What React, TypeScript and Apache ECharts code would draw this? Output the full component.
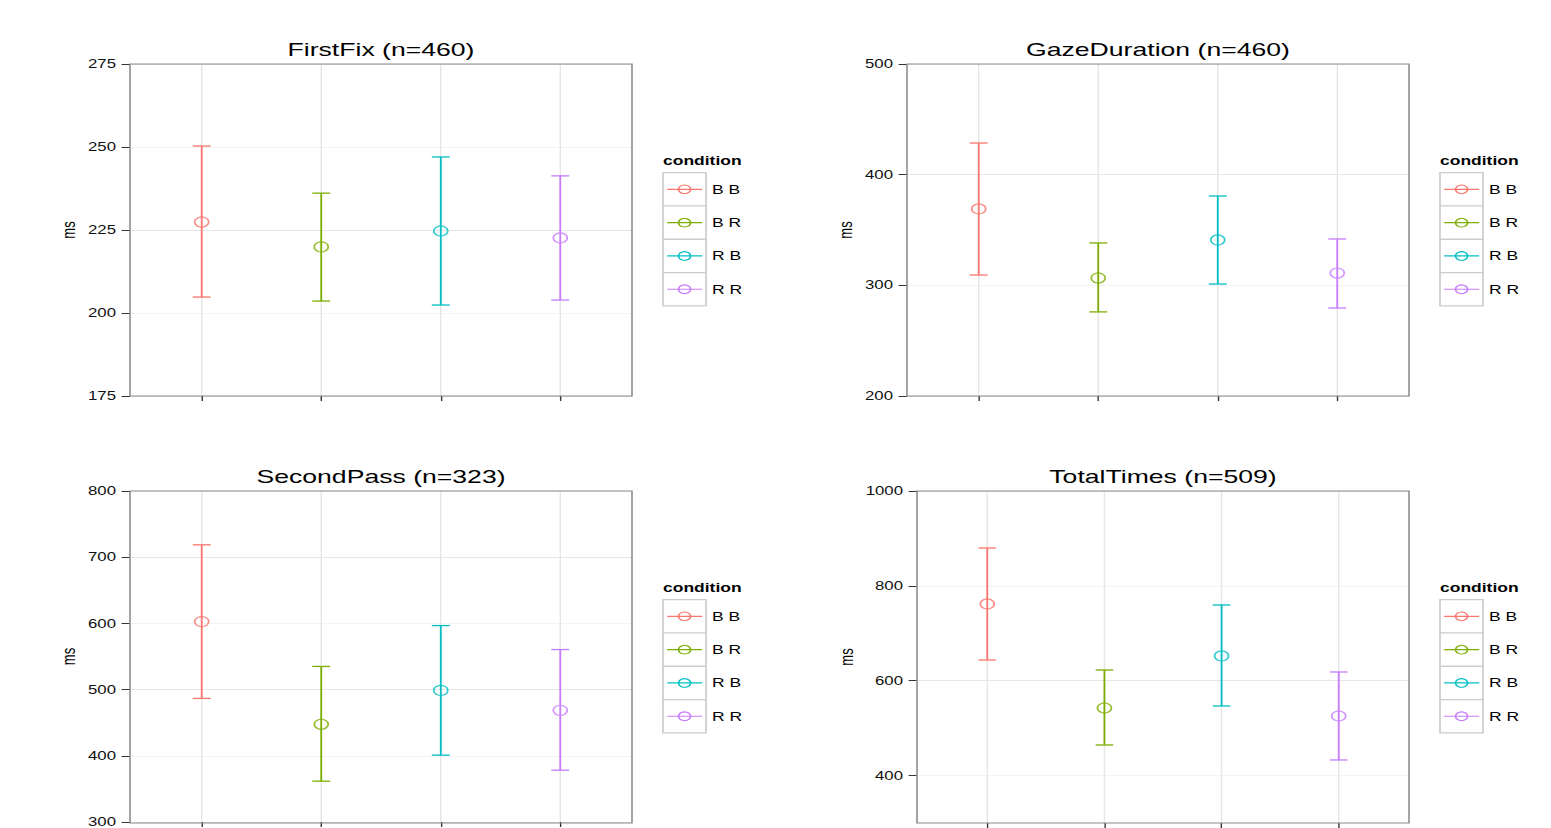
import React, { useEffect, useRef } from 'react';
import * as echarts from 'echarts';

// ---------------- data ----------------
const CONDITIONS = ['B B', 'B R', 'R B', 'R R'];
const CONDITION_COLORS = ['#F8766D', '#7CAE00', '#00BFC4', '#C77CFF'];
const X_POSITIONS = [1, 2, 3, 4];

const FIRSTFIX_MEAN = [227.4, 219.9, 224.7, 222.6];
const FIRSTFIX_LOWER = [204.8, 203.6, 202.4, 203.9];
const FIRSTFIX_UPPER = [250.3, 236.1, 247.0, 241.3];
const FIRSTFIX_TICKS = [175, 200, 225, 250, 275];

const GAZE_MEAN = [369.0, 306.6, 341.0, 311.1];
const GAZE_LOWER = [309.3, 276.0, 301.2, 279.5];
const GAZE_UPPER = [428.6, 338.3, 380.7, 341.9];
const GAZE_TICKS = [200, 300, 400, 500];

const SECOND_MEAN = [602.7, 447.6, 498.8, 468.7];
const SECOND_LOWER = [486.7, 361.7, 401.0, 378.3];
const SECOND_UPPER = [718.7, 535.0, 596.7, 560.5];
const SECOND_TICKS = [300, 400, 500, 600, 700, 800];

const TOTAL_MEAN = [761.8, 542.5, 652.2, 525.6];
const TOTAL_LOWER = [643.7, 464.5, 546.7, 432.9];
const TOTAL_UPPER = [879.8, 622.6, 759.7, 618.4];
const TOTAL_TICKS = [400, 600, 800, 1000];

const PANELS = [
  { title: 'FirstFix (n=460)', mean: FIRSTFIX_MEAN, lower: FIRSTFIX_LOWER, upper: FIRSTFIX_UPPER, ticks: FIRSTFIX_TICKS, min: 175, max: 275, step: 12.5 },
  { title: 'GazeDuration (n=460)', mean: GAZE_MEAN, lower: GAZE_LOWER, upper: GAZE_UPPER, ticks: GAZE_TICKS, min: 200, max: 500, step: 50 },
  { title: 'SecondPass (n=323)', mean: SECOND_MEAN, lower: SECOND_LOWER, upper: SECOND_UPPER, ticks: SECOND_TICKS, min: 300, max: 800, step: 50 },
  { title: 'TotalTimes (n=509)', mean: TOTAL_MEAN, lower: TOTAL_LOWER, upper: TOTAL_UPPER, ticks: TOTAL_TICKS, min: 300, max: 1000, step: 100 },
];

// ---------------- layout (screen px) ----------------
const W = 1108;
const H = 828;
const S = 1551 / W; // horizontal stretch of the reference
const FONT = '"Liberation Sans", Arial, Helvetica, sans-serif';
const MAJOR = '#e6e6e6';
const MINOR = '#f3f3f3';

const LAYOUT = [
  { left: 130, right: 632, top: 64, bottom: 396, titleX: 381, titleY: 49, legendX: 663, legendY: 160, nameGap: 37 },
  { left: 907, right: 1409, top: 64, bottom: 396, titleX: 1158, titleY: 49, legendX: 1440, legendY: 160, nameGap: 37 },
  { left: 130, right: 632, top: 491, bottom: 823, titleX: 381, titleY: 476, legendX: 663, legendY: 587, nameGap: 37 },
  { left: 917, right: 1409, top: 491, bottom: 823, titleX: 1163, titleY: 476, legendX: 1440, legendY: 587, nameGap: 44 },
];

function buildOption() {
  const grid: any[] = [];
  const xAxis: any[] = [];
  const yAxis: any[] = [];
  const series: any[] = [];
  const title: any[] = [];
  const graphic: any[] = [];

  PANELS.forEach((p, i) => {
    const L = LAYOUT[i];
    const gl = L.left / S;
    const gw = (L.right - L.left) / S;
    const gh = L.bottom - L.top;
    grid.push({ left: gl, top: L.top, width: gw, height: gh, containLabel: false });

    title.push({
      text: p.title,
      left: L.titleX / S,
      top: L.titleY - 9.5,
      textAlign: 'center',
      padding: 0,
      textStyle: { fontSize: 19, fontWeight: 'normal', color: '#000', fontFamily: FONT },
    });

    xAxis.push({
      gridIndex: i,
      type: 'value',
      min: 0.4,
      max: 4.6,
      axisLine: { show: false, onZero: false },
      axisLabel: { show: false },
      splitLine: { show: false },
      axisTick: { show: true, customValues: X_POSITIONS, length: 5, lineStyle: { color: '#333', width: 1 } },
    });

    const n = Math.round((p.max - p.min) / p.step) + 1;
    const lineColors: string[] = [];
    for (let k = 0; k < n; k++) {
      const v = p.min + k * p.step;
      lineColors.push(p.ticks.some((t) => Math.abs(t - v) < 1e-6) ? MAJOR : MINOR);
    }

    yAxis.push({
      gridIndex: i,
      type: 'value',
      min: p.min,
      max: p.max,
      interval: p.step,
      name: 'ms',
      nameLocation: 'middle',
      nameGap: L.nameGap,
      nameRotate: 90,
      nameTextStyle: { fontSize: 13, color: '#000', fontFamily: FONT },
      axisLine: { show: false, onZero: false },
      axisTick: { show: true, customValues: p.ticks, length: 6, lineStyle: { color: '#333', width: 1 } },
      axisLabel: {
        customValues: p.ticks,
        margin: 10,
        fontSize: 12,
        color: '#111',
        fontFamily: FONT,
        formatter: (v: number) => String(v),
      },
      splitLine: { show: true, lineStyle: { color: lineColors, width: 1 } },
    });

    series.push({
      type: 'custom',
      xAxisIndex: i,
      yAxisIndex: i,
      z: 2,
      data: X_POSITIONS.map((x, k) => [x, p.lower[k], p.upper[k]]),
      encode: { x: 0, y: [1, 2] },
      renderItem: (params: any, api: any) => {
        const x = api.value(0);
        const lo = api.value(1);
        const hi = api.value(2);
        const pt = api.coord([x, hi]);
        const pb = api.coord([x, lo]);
        const half = api.size([0.15, 0])[0] / 2;
        const cs = params.coordSys;
        const color = CONDITION_COLORS[params.dataIndex];
        const st = { stroke: color, lineWidth: 1.3 };
        return {
          type: 'group',
          children: [
            { type: 'line', shape: { x1: pt[0], y1: cs.y, x2: pt[0], y2: cs.y + cs.height }, style: { stroke: MAJOR, lineWidth: 1 } },
            { type: 'line', shape: { x1: pt[0], y1: pt[1], x2: pb[0], y2: pb[1] }, style: st },
            { type: 'line', shape: { x1: pt[0] - half, y1: pt[1], x2: pt[0] + half, y2: pt[1] }, style: st },
            { type: 'line', shape: { x1: pb[0] - half, y1: pb[1], x2: pb[0] + half, y2: pb[1] }, style: st },
          ],
        };
      },
    });

    series.push({
      type: 'scatter',
      name: p.title,
      xAxisIndex: i,
      yAxisIndex: i,
      z: 3,
      symbol: 'circle',
      symbolSize: 10,
      data: X_POSITIONS.map((x, k) => ({
        value: [x, p.mean[k]],
        itemStyle: { color: 'rgba(0,0,0,0)', borderColor: CONDITION_COLORS[k], borderWidth: 1.2 },
      })),
    });

    // panel frame
    graphic.push({
      type: 'rect',
      z: 100,
      silent: true,
      shape: { x: gl, y: L.top, width: gw, height: gh },
      style: { fill: 'none', stroke: '#8a8a8a', lineWidth: 1.1 },
    });

    // legend
    const lx = L.legendX / S;
    const boxW = 43 / S;
    const boxH = 33.3;
    const boxTop = L.legendY + 12.7;
    graphic.push({
      type: 'text',
      x: lx,
      y: L.legendY,
      style: { text: 'condition', fontSize: 12.5, fontWeight: 'bold', fill: '#000', fontFamily: FONT, verticalAlign: 'middle' },
    });
    CONDITIONS.forEach((c, k) => {
      const y0 = boxTop + k * boxH;
      const cy = y0 + boxH / 2;
      graphic.push({
        type: 'rect',
        shape: { x: lx, y: y0, width: boxW, height: boxH },
        style: { fill: '#fff', stroke: '#cccccc', lineWidth: 1.2 },
      });
      graphic.push({
        type: 'line',
        shape: { x1: lx + 3, y1: cy, x2: lx + 28, y2: cy },
        style: { stroke: CONDITION_COLORS[k], lineWidth: 1.2 },
      });
      graphic.push({
        type: 'circle',
        shape: { cx: lx + 15.4, cy, r: 4.3 },
        style: { fill: 'none', stroke: CONDITION_COLORS[k], lineWidth: 1.1 },
      });
      graphic.push({
        type: 'text',
        x: lx + 35,
        y: cy,
        style: { text: c, fontSize: 12.5, fill: '#000', fontFamily: FONT, verticalAlign: 'middle' },
      });
    });
  });

  return {
    animation: false,
    backgroundColor: '#fff',
    title,
    grid,
    xAxis,
    yAxis,
    series,
    graphic,
  };
}

export default function App() {
  const ref = useRef<HTMLDivElement>(null);
  useEffect(() => {
    document.body.style.margin = '0';
    document.body.style.overflow = 'hidden';
    if (!ref.current) return;
    const chart = echarts.init(ref.current, undefined, { renderer: 'svg' });
    chart.setOption(buildOption() as any);
    return () => chart.dispose();
  }, []);
  return (
    <div
      ref={ref}
      style={{
        position: 'absolute',
        left: 0,
        top: 0,
        width: W,
        height: H,
        transform: `scaleX(${S})`,
        transformOrigin: '0 0',
      }}
    />
  );
}
